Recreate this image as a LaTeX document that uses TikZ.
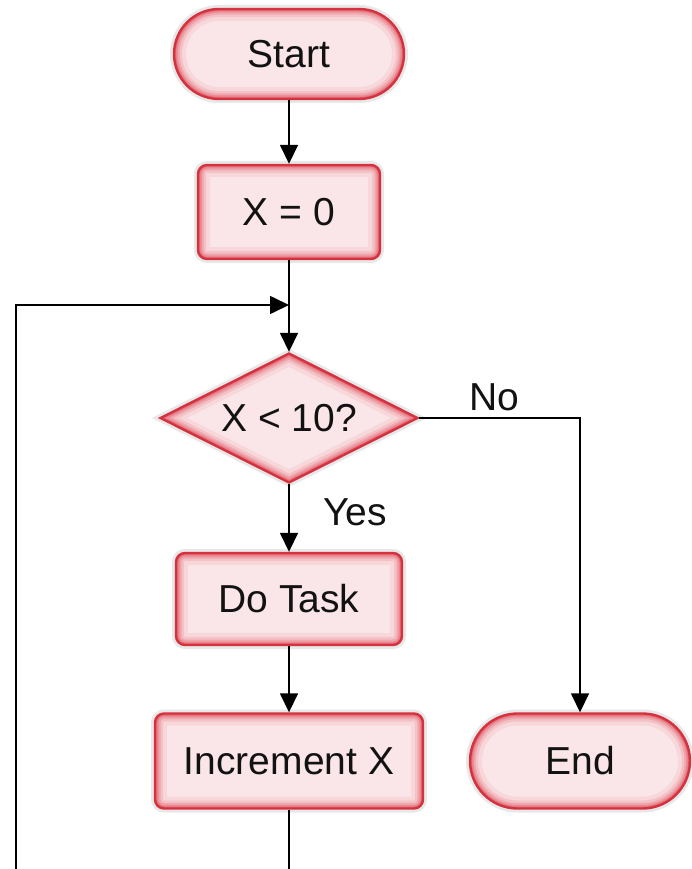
\documentclass[tikz,border=0pt]{standalone}
\usepackage{fontspec}
\setmainfont{Liberation Sans}
\usetikzlibrary{shapes.geometric, arrows.meta}

\definecolor{edgered}{RGB}{212,50,62}
\definecolor{glowred}{RGB}{226,84,96}
\definecolor{pinkfill}{RGB}{250,230,232}
\definecolor{inkcol}{RGB}{18,18,18}

% soft red rim inside a shape: strokes of the outline, clipped by path picture
\newcommand\rimglow[1]{%
  \foreach \gw/\go in {24/0.10,16/0.16,11/0.24,7/0.36,4/0.55}{%
    \draw[glowred, line width=\gw pt, opacity=\go] #1;}}

\tikzset{
  basebox/.style={draw=edgered, line width=2.4pt, fill=pinkfill, inner sep=0pt,
    align=center, text=inkcol,
    preaction={draw=black!9, line width=8pt}},
  procbox/.style={basebox, rectangle, rounded corners=9pt,
    path picture={\rimglow{[rounded corners=9pt]
      (path picture bounding box.south west) rectangle (path picture bounding box.north east)}}},
  termbox/.style={basebox, rectangle, rounded corners=#1,
    path picture={\rimglow{[rounded corners=#1]
      (path picture bounding box.south west) rectangle (path picture bounding box.north east)}}},
  decbox/.style={basebox, diamond, aspect=2,
    path picture={\rimglow{(path picture bounding box.west) -- (path picture bounding box.north)
      -- (path picture bounding box.east) -- (path picture bounding box.south) -- cycle}}},
  flow/.style={draw=black, line width=1.6pt},
  lbl/.style={text=inkcol, inner sep=0pt, anchor=base}
}

\begin{document}
\begin{tikzpicture}[x=1pt, y=-1pt, font=\fontsize{39}{47}\selectfont,
  >={Triangle[length=19pt,width=18pt]}]
  \useasboundingbox (0,0) rectangle (692,869);
  \fill[white] (0,0) rectangle (692,869);
  \clip (0,0) rectangle (692,869);

  % steps of the loop
  \node[termbox=45pt, minimum width=230pt, minimum height=90pt] (start) at (289,54) {Start};
  \node[procbox, minimum width=182pt, minimum height=94pt] (init) at (289,212) {X = 0};
  \node[decbox, minimum width=258pt, minimum height=130pt] (test) at (289,418) {X < 10?};
  \node[procbox, minimum width=226pt, minimum height=92pt] (task) at (289,599) {Do Task};
  \node[procbox, minimum width=268pt, minimum height=95pt] (inc) at (289,761) {Increment X};
  \node[termbox=47.5pt, minimum width=220pt, minimum height=95pt] (end) at (580,761) {End};

  % branch labels
  \node[lbl] (nolbl) at (494,410) {No};
  \node[lbl] (yeslbl) at (355,525) {Yes};

  % loop-back junction and the open ends running off the page
  \coordinate (merge) at (289,305);
  \coordinate (looptop) at (16,305);
  \coordinate (loopbot) at (16,885);
  \coordinate (incdown) at (inc.south |- loopbot);
  \coordinate (nocorner) at (end.north |- test.east);

  % connectors
  \draw[flow, ->] (start) -- (init);
  \draw[flow, ->] (init) -- (test);
  \draw[flow, ->] (loopbot) -- (looptop) -- (merge);
  \draw[flow, ->] (test) -- (task);
  \draw[flow, ->] (task) -- (inc);
  \draw[flow] (inc) -- (incdown);
  \draw[flow, ->] (test.east) -- (nocorner) -- (end.north);
\end{tikzpicture}
\end{document}
